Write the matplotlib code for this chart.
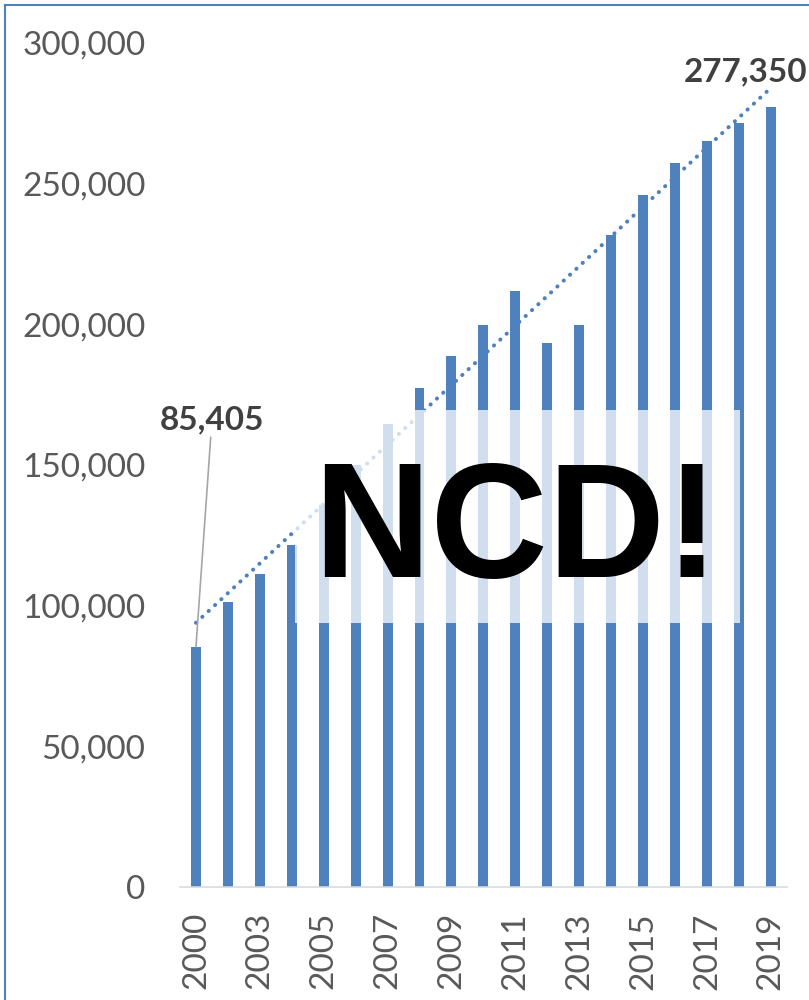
# Bar chart 2000-2019 with a linear trendline and an "NCD!" sticker on top

import matplotlib.pyplot as plt
import numpy as np
from matplotlib.patches import Rectangle
from matplotlib.lines import Line2D

years = [2000, 2002, 2003, 2004, 2005, 2006, 2007, 2008, 2009, 2010,
         2011, 2012, 2013, 2014, 2015, 2016, 2017, 2018, 2019]
values = [85405, 101300, 111300, 121600, 135800, 150000, 164600, 177400, 188800, 199800,
          211900, 193400, 199800, 231800, 246000, 257400, 265200, 271600, 277350]
tick_years = years[::2]
yticks = [0, 50000, 100000, 150000, 200000, 250000, 300000]

blue = '#4F81BD'
grey_text = '#595959'

plt.rcParams['font.family'] = ['Lato', 'DejaVu Sans']

fig = plt.figure(figsize=(8.09, 10), dpi=100)
ax = fig.add_axes([0.2225, 0.113, 0.750, 0.844])

x = np.arange(len(years))
ax.bar(x, values, width=0.31, color=blue, zorder=2)

# linear trendline (as Excel draws it)
fit = np.polyfit(x, values, 1)
ax.plot(x, np.polyval(fit, x), color=blue, lw=2.9, linestyle=(0, (0.05, 2.1)),
        dash_capstyle='round', zorder=3)

# data labels for first and last bar
ax.annotate(f'{values[0]:,}', xy=(0, values[0]), xytext=(0.5, 166000),
            ha='center', va='center', fontsize=24, fontweight='bold', color='#404040',
            arrowprops=dict(arrowstyle='-', color='#A6A6A6', lw=1.2, shrinkA=0, shrinkB=0),
            zorder=4)
ax.text(17.2, 289700, f'{values[-1]:,}', ha='center', va='center', fontsize=24,
        fontweight='bold', color='#404040', zorder=4)

ax.set_xlim(-0.5, len(years) - 0.5)
ax.set_ylim(0, 300000)
ax.set_xticks(x[::2])
ax.set_xticklabels([str(y) for y in tick_years], rotation=90, ha='center', va='top')
ax.set_yticks(yticks)
ax.set_yticklabels([f'{v:,}' for v in yticks])
ax.tick_params(axis='both', length=0, labelsize=24, labelcolor=grey_text)
ax.tick_params(axis='y', pad=25)
ax.tick_params(axis='x', pad=18)

for side in ['top', 'right', 'left']:
    ax.spines[side].set_visible(False)
ax.spines['bottom'].set_color('#D9D9D9')
ax.spines['bottom'].set_linewidth(1.1)

# frame of the original picture (only top and left visible)
fig.add_artist(Line2D([5 / 809, 1], [0.995, 0.995], transform=fig.transFigure,
                      color=blue, lw=1.5))
fig.add_artist(Line2D([5 / 809, 5 / 809], [0, 0.995], transform=fig.transFigure,
                      color=blue, lw=1.5))

# white translucent box with the sticker text
fig.add_artist(Rectangle((295 / 809, 1 - 623 / 1000), (740 - 295) / 809, (623 - 410) / 1000,
                         transform=fig.transFigure, facecolor='white', alpha=0.74,
                         edgecolor='none', zorder=5))
fig.text(516 / 809, 1 - 577 / 1000, 'NCD!', family=['Liberation Sans', 'DejaVu Sans'],
         fontweight='bold', fontsize=117, ha='center', va='baseline', color='black', zorder=6)

plt.savefig('out.png', dpi=100)
